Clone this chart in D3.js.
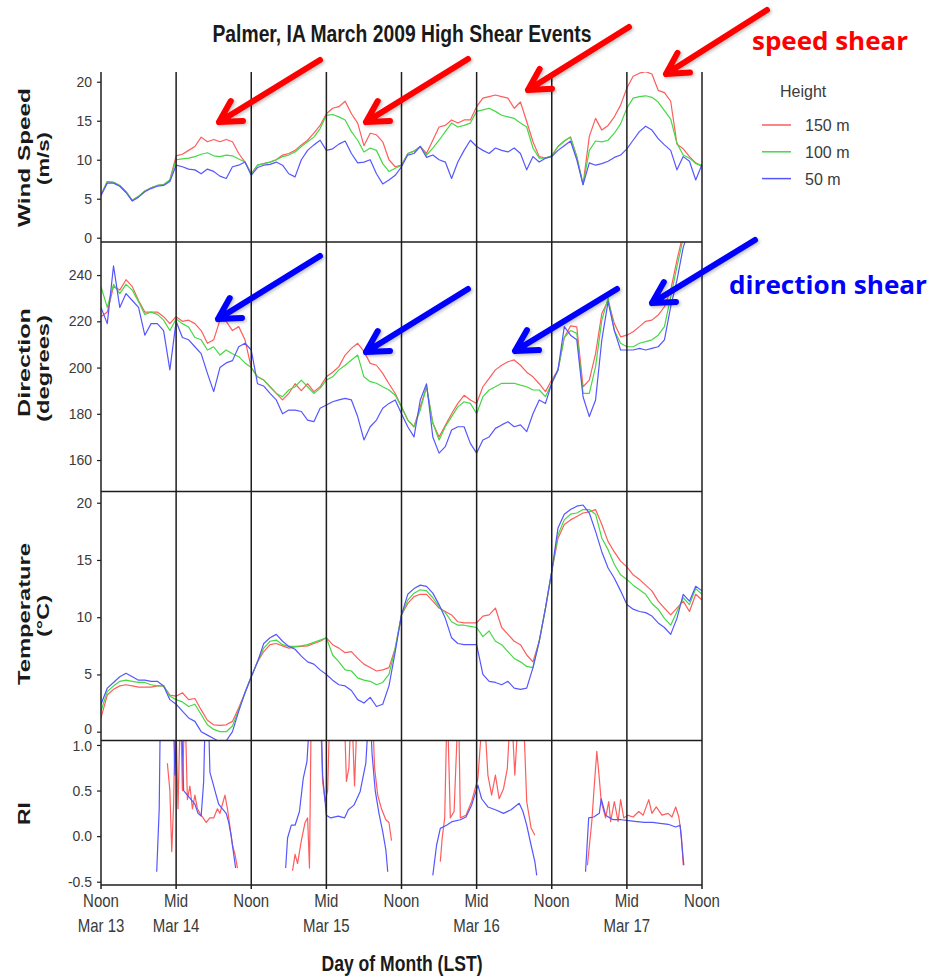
<!DOCTYPE html>
<html>
<head>
<meta charset="utf-8">
<script src="https://cdn.jsdelivr.net/npm/d3@7"></script>
<style>
  body { margin: 0; background: #fff; }
  svg { display: block; }
</style>
</head>
<body>
<svg id="chart" width="930" height="977"></svg>
<script>
// ---- time grid: hours after noon, 13 March 2009 (LST) ----
const hours = d3.range(0, 97);

// ---- wind speed (m/s) ----
const windRed = [
  5.5, 7.2, 7.1, 6.7, 5.9, 4.8, 5.3, 6.0, 6.4, 6.7, 6.8, 7.4,
  10.5, 10.7, 11.2, 11.7, 12.9, 12.3, 12.6, 12.3, 12.6, 12.3, 10.8, 9.7,
  8.2, 9.3, 9.5, 9.7, 10.0, 10.6, 10.8, 11.2, 11.9, 12.5, 13.4, 14.4,
  15.9, 16.6, 16.8, 17.5, 15.9, 14.7, 11.8, 13.4, 13.2, 12.3, 10.0, 9.1,
  9.3, 10.8, 11.1, 11.7, 10.8, 12.5, 14.2, 14.4, 15.1, 14.7, 15.1, 15.1,
  16.8, 17.9, 18.1, 18.3, 18.1, 17.9, 16.6, 17.4, 14.9, 12.3, 10.4, 10.2,
  10.5, 11.7, 12.4, 12.9, 10.4, 6.8, 13.0, 15.3, 13.8, 14.4, 15.5, 17.0,
  19.2, 20.7, 21.1, 21.3, 21.0, 18.9, 18.6, 17.5, 12.0, 11.4, 10.4, 9.6, 9.1
];
const windGreen = [
  5.5, 7.2, 7.1, 6.7, 5.9, 4.8, 5.3, 6.0, 6.4, 6.7, 6.8, 7.4,
  10.0, 10.1, 10.2, 10.4, 10.7, 10.9, 10.5, 10.4, 10.6, 10.5, 10.1, 9.7,
  8.2, 9.3, 9.5, 9.7, 10.0, 10.4, 10.6, 11.0, 11.7, 12.3, 12.9, 14.0,
  15.7, 15.8, 15.5, 15.1, 13.6, 12.5, 11.0, 11.5, 11.2, 9.5, 8.5, 8.9,
  9.3, 10.8, 11.1, 11.7, 10.6, 11.5, 12.5, 13.6, 14.7, 14.2, 14.4, 14.7,
  16.2, 16.4, 16.6, 16.2, 15.7, 15.5, 15.3, 14.7, 14.2, 11.5, 10.2, 10.2,
  10.5, 11.7, 12.4, 12.9, 10.4, 6.8, 11.2, 12.4, 12.3, 12.5, 13.4, 14.6,
  16.6, 17.9, 18.1, 18.2, 18.0, 17.4, 16.3, 15.2, 12.1, 10.6, 10.2, 9.5, 9.3
];
const windBlue = [
  5.4, 7.0, 7.0, 6.6, 5.8, 4.7, 5.2, 5.9, 6.3, 6.6, 6.7, 7.2,
  9.3, 9.1, 8.8, 8.7, 8.2, 8.8, 8.5, 7.9, 7.6, 9.1, 9.3, 9.7,
  8.0, 9.0, 9.3, 9.4, 9.7, 9.3, 8.2, 7.8, 10.0, 11.2, 11.9, 12.5,
  11.2, 11.4, 12.0, 12.4, 10.8, 9.6, 9.7, 10.0, 8.2, 6.9, 7.4, 8.0,
  9.1, 10.6, 10.8, 11.7, 10.3, 10.6, 10.0, 9.7, 7.6, 9.7, 11.2, 12.5,
  11.7, 11.2, 10.8, 11.5, 11.2, 11.0, 11.5, 10.8, 8.7, 10.4, 9.7, 10.2,
  10.4, 11.2, 11.8, 12.4, 10.0, 6.8, 9.6, 9.3, 9.5, 9.8, 10.3, 10.6,
  11.4, 12.5, 13.6, 14.3, 13.8, 12.7, 11.9, 11.2, 8.7, 10.4, 9.8, 7.4, 9.4
];

// ---- wind direction (degrees) ----
const dirRed = [
  222, 224, 235, 233.5, 238, 235, 229, 224, 224, 224, 222, 219,
  222, 220, 220.5, 219, 216, 210.5, 212, 220.5, 220, 216, 217.7, 212,
  200, 196, 194.6, 191.7, 188.8, 186, 188.8, 193, 190, 193, 189.6, 191.7,
  196, 198, 200.4, 205.4, 208.3, 210.5, 207, 201.8, 201, 197.5, 193, 188.8,
  183, 177.3, 174.4, 183, 191.7, 176, 170, 175, 180, 184.5, 188, 186,
  184.5, 191.7, 195.3, 199, 201, 202.5, 203.3, 201, 198, 196, 193, 189.6,
  194.6, 199, 213, 218, 217.6, 191.7, 194.6, 206, 223.4, 229, 219, 213.3,
  214, 215.5, 217.7, 220, 220.5, 222.7, 226.3, 233.5, 246.5, 258, 262, 264, 266
];
const dirGreen = [
  235, 226, 236, 232, 236, 233.5, 228.5, 223, 224, 223, 220.5, 216,
  221, 219, 217.5, 213, 212, 207.6, 209, 205.4, 207.6, 206, 204.7, 202,
  200, 196, 194.6, 191.7, 188.8, 187.4, 190.3, 191.7, 194.6, 191.7, 188.8, 191,
  194.6, 196, 199, 201, 203.3, 205.4, 196, 193.9, 193.2, 191.7, 190.3, 188,
  183, 177.3, 174.4, 181.6, 191.7, 176, 168.7, 174.4, 178.8, 183, 185.2, 184.5,
  180, 187.4, 190.3, 191.7, 193.2, 193.2, 193.2, 192.4, 191.7, 190.3, 190.3, 187.4,
  193.2, 199, 213, 216, 214.8, 188.8, 188.8, 200.4, 220.5, 230, 216, 210.5,
  209, 209, 210.5, 211.2, 212, 214, 217.7, 230.6, 243.6, 256, 262, 264, 266
];
const dirBlue = [
  226, 219, 244, 226, 232, 229, 226, 214, 219, 219, 216, 199,
  220, 213, 212, 209, 206, 197.5, 189.6, 200, 202, 203, 209, 210.5,
  207.6, 193, 192, 188.8, 186, 180, 181.6, 181.6, 181, 177.3, 176.6, 182.4,
  183.8, 185.2, 186, 186.7, 186, 178.8, 168.7, 174.4, 177.3, 182.4, 184.5, 186,
  180, 174.4, 170, 186, 193, 170, 163, 165.8, 173, 174.4, 174.4, 167.2,
  163, 168.7, 170, 173.7, 175.2, 176.6, 174.4, 175.2, 172.3, 180, 186, 184.5,
  193.2, 199, 217.7, 214, 212, 187.4, 178.8, 186, 212, 228.5, 216, 207.6,
  207.6, 207.6, 208.3, 207.6, 208.3, 209, 212, 226.3, 237.8, 252, 260, 264, 266
];

// ---- temperature (°C) ----
const tempRed = [
  1.2, 3.2, 3.7, 4.0, 4.1, 4.0, 3.9, 3.9, 3.9, 4.0, 4.0, 3.2,
  3.1, 3.4, 2.8, 2.9, 1.9, 1.0, 0.6, 0.55, 0.6, 0.9, 2.1, 3.4,
  4.8, 6.1, 7.0, 7.6, 7.7, 7.5, 7.3, 7.4, 7.45, 7.5, 7.7, 7.9,
  8.2, 7.6, 7.3, 6.9, 7.0, 6.4, 5.9, 5.6, 5.3, 5.4, 5.6, 7.3,
  10.2, 11.2, 11.8, 12.0, 12.0, 11.4, 10.8, 10.5, 10.2, 9.6, 9.5, 9.5,
  9.5, 10.1, 10.2, 10.8, 9.1, 8.5, 7.9, 7.6, 6.7, 6.1, 7.9, 10.8,
  14.0, 16.9, 18.1, 18.5, 18.8, 19.1, 19.2, 19.4, 18.1, 16.6, 15.7, 14.9,
  14.4, 13.7, 13.3, 12.8, 12.3, 11.4, 10.8, 10.2, 10.8, 11.4, 10.5, 12.0, 11.5
];
const tempGreen = [
  1.8, 3.5, 4.0, 4.4, 4.5, 4.4, 4.3, 4.3, 4.1, 4.0, 4.0, 3.1,
  2.8, 2.6, 2.2, 2.4, 1.5, 0.6, 0.2, 0.0, 0.0, 0.5, 1.9, 3.4,
  4.8, 6.1, 7.3, 7.9, 8.0, 7.6, 7.45, 7.45, 7.5, 7.6, 7.8, 8.0,
  8.2, 6.7, 6.1, 5.4, 5.3, 4.7, 4.5, 4.4, 4.1, 4.3, 5.0, 7.3,
  10.2, 11.5, 12.1, 12.4, 12.3, 11.7, 10.9, 10.4, 9.6, 9.3, 9.3, 9.2,
  9.1, 8.3, 8.8, 7.9, 7.6, 7.0, 6.4, 6.1, 5.7, 5.6, 7.9, 10.8,
  14.0, 17.2, 18.5, 19.0, 19.1, 19.4, 19.4, 19.0, 16.9, 15.9, 14.6, 13.7,
  13.3, 12.8, 12.4, 12.0, 11.2, 10.7, 9.9, 9.3, 10.5, 11.7, 11.1, 12.5, 12.0
];
const tempBlue = [
  2.4, 3.8, 4.3, 4.8, 5.1, 4.8, 4.5, 4.5, 4.4, 4.4, 4.0, 2.8,
  2.4, 1.8, 1.2, 0.9, 0.0, -0.3, -0.6, -0.9, -0.8, 0.0, 1.8, 3.4,
  4.8, 6.1, 7.7, 8.2, 8.5, 7.9, 7.45, 7.2, 6.6, 6.1, 5.9, 5.4,
  5.0, 4.5, 4.1, 4.0, 3.6, 2.8, 2.5, 3.0, 2.2, 2.4, 4.0, 7.0,
  10.2, 12.0, 12.5, 12.8, 12.7, 12.1, 11.1, 9.9, 8.2, 7.7, 7.6, 7.6,
  7.6, 5.0, 4.4, 4.3, 4.1, 4.4, 3.8, 3.7, 3.8, 5.6, 7.9, 10.8,
  14.0, 17.8, 19.0, 19.4, 19.7, 19.8, 19.1, 17.5, 15.7, 14.3, 13.4, 12.3,
  11.1, 10.7, 10.5, 10.4, 10.1, 9.5, 9.1, 8.5, 9.9, 12.0, 11.4, 12.7, 12.3
];

// ---- Richardson number: hour stamps and values, null ends a segment ----
const riRedHours = [
  10.6, 11.0, 11.3, 11.6, 11.9, 12.3, 12.7, 13.0, 13.4, 13.8, 14.2, 14.6, 15.0, 15.4, 15.8,
  16.3, 16.8, 17.4, 18.0, 18.6, 19.0, 19.4, 19.8, 20.2, 20.6, 21.0, 21.4, 21.8, 22.0,
  30.6, 31.0, 31.4, 32.0, 32.6, 33.0, 33.3, 33.6, 35.0, 35.4, 35.8, 36.2, 36.6, 38.8, 39.2,
  39.6, 40.0, 40.5, 41.0, 43.3, 43.7, 44.2, 44.8, 45.5, 46.0, 46.4, 46.6,
  54.2, 54.5, 54.9, 55.3, 55.8, 56.4, 57.1, 57.4, 58.3, 59.2, 60.2, 61.1, 61.8, 62.4, 63.0,
  63.6, 64.3, 64.9, 65.5, 66.1, 66.8, 67.4, 68.0, 68.7, 69.3, 69.5,
  77.7, 78.4, 78.8, 79.2, 79.6, 79.9, 80.6, 81.1, 81.4, 82.0, 82.6, 83.0, 83.5, 84.1, 85.0,
  85.9, 86.6, 87.5, 88.0, 88.7, 89.6, 90.6, 91.2, 91.8, 92.3, 92.7, 93.0
];
const riRed = [
  0.8, 0.5, -0.17, 0.35, 1.5, 0.3, 1.5, 0.5, 1.5, 0.4, 0.55, 0.3, 0.45, 0.3, 0.25,
  0.2, 0.15, 0.2, 0.2, 0.3, 0.25, 0.35, 0.45, 0.3, 0.1, -0.1, -0.2, -0.35, null,
  -0.38, -0.2, -0.3, -0.05, 0.15, 0.2, -0.35, 1.5, 1.5, 0.6, 0.38, 0.5, 1.5, 1.5, 0.6,
  0.75, 1.5, 0.55, 1.5, 1.5, 0.75, 0.45, 0.3, 0.18, 0.15, -0.05, null,
  -0.28, -0.02, 0.2, 1.5, 0.2, 0.27, 1.5, 0.2, 0.23, 0.38, 0.63, 1.5, 0.67, 0.45, 0.67,
  0.41, 0.52, 0.74, 1.5, 0.67, 1.5, 1.5, 0.38, 0.09, 0.01, null,
  -0.32, 0.16, 0.56, 0.93, 0.63, 0.38, 0.2, 0.38, 0.16, 0.38, 0.16, 0.4, 0.2, 0.23, 0.21,
  0.27, 0.23, 0.4, 0.25, 0.32, 0.23, 0.25, 0.21, 0.32, 0.21, 0.01, -0.32
];
const riBlueHours = [
  8.9, 9.3, 9.5, 11.5, 11.8, 12.2, 12.8, 13.2, 13.8, 14.4, 15.0, 15.5, 16.0, 16.4, 16.7,
  17.1, 17.4, 17.8, 18.2, 18.8, 19.4, 20.0, 20.4, 20.8, 21.2, 21.5, 21.7,
  29.5, 29.8, 30.4, 31.0, 31.7, 32.3, 32.9, 33.5, 35.1, 35.4, 36.0, 36.7, 37.9, 38.9, 39.5,
  40.4, 41.4, 42.3, 42.9, 43.3, 43.8, 44.4, 45.0, 45.5, 45.8, 46.0,
  53.0, 53.6, 54.2, 55.2, 56.1, 57.4, 58.3, 59.2, 60.2, 60.8, 61.8, 63.0, 64.3, 65.5, 66.8,
  67.4, 68.0, 68.7, 69.3, 69.6, 69.8,
  77.4, 77.9, 78.7, 79.6, 79.9, 80.6, 81.8, 83.1, 84.3, 85.6, 86.8, 88.1, 89.3, 90.6, 91.8,
  92.5, 92.8, 93.1
];
const riBlue = [
  -0.39, 0.3, 1.5, 1.5, 0.67, 1.5, 1.5, 0.5, 0.45, 0.4, 0.35, 0.25, 0.22, 0.6, 1.5,
  1.5, 0.7, 0.6, 0.5, 0.35, 0.3, 0.25, 0.15, 0.0, -0.2, -0.35, null,
  -0.35, -0.02, 0.12, 0.12, 0.27, 0.63, 0.82, 1.5, 1.5, 0.67, 0.23, 0.2, 0.22, 0.2, 0.29,
  0.34, 0.49, 0.8, 1.5, 0.9, 0.5, 0.25, 0.05, -0.15, -0.39, null,
  -0.43, -0.1, 0.085, 0.12, 0.16, 0.18, 0.21, 0.34, 0.56, 0.41, 0.32, 0.29, 0.25, 0.29, 0.36,
  0.27, 0.12, -0.1, -0.28, -0.43, null,
  -0.39, 0.2, 0.21, 0.25, 0.41, 0.23, 0.18, 0.18, 0.17, 0.16, 0.15, 0.15, 0.14, 0.13, 0.1,
  0.12, -0.1, -0.32
];

// ---- labels ----
const heightLabels = ["150 m", "100 m", "50 m"];
const xTickHours = [0, 12, 24, 36, 48, 60, 72, 84, 96];
const xTimeLabels = ["Noon", "Mid", "Noon", "Mid", "Noon", "Mid", "Noon", "Mid", "Noon"];
const xDayLabels = ["Mar 13", "Mar 14", "", "Mar 15", "", "Mar 16", "", "Mar 17", ""];
const windTicks = [0, 5, 10, 15, 20];
const dirTicks = [160, 180, 200, 220, 240];
const tempTicks = [0, 5, 10, 15, 20];
const riTicks = [-0.5, 0.0, 0.5, 1.0];

// ---- styling ----
const colors = ["#ff5c5c", "#45d845", "#5656ff"];
const axisInk = "#1e1e1e";
const labelInk = "#3a3a3a";

const svg = d3.select("#chart");
const left = 101, right = 702;
const x = d3.scaleLinear().domain([0, 96]).range([left, right]);

// plain hyphen for negative tick labels
const intFmt = d => String(Math.round(d));
const oneDec = d => d.toFixed(1);

const panels = [
  { id: "wind", top: 72, bottom: 242, domain: [-0.55, 21.25], ticks: windTicks, fmt: intFmt,
    series: [windRed, windGreen, windBlue],
    title: ["Wind Speed", "(m/s)"], titleY: [157.5, 158.5], titleLen: [139, 53] },
  { id: "dir", top: 242, bottom: 491.5, domain: [146.4, 254.3], ticks: dirTicks, fmt: intFmt,
    series: [dirRed, dirGreen, dirBlue],
    title: ["Direction", "(degrees)"], titleY: [362.5, 368.5], titleLen: [109, 107] },
  { id: "temp", top: 491.5, bottom: 740.5, domain: [-0.77, 20.98], ticks: tempTicks, fmt: intFmt,
    series: [tempRed, tempGreen, tempBlue], nudge: { value: 0, dy: -2.5 },
    title: ["Temperature", "(°C)"], titleY: [614, 616], titleLen: [142, 42] },
  { id: "ri", top: 740.5, bottom: 885, domain: [-0.536, 1.049], ticks: riTicks, fmt: oneDec,
    nudge: { value: 1.0, dy: 1.5 },
    title: ["RI"], titleY: [813.5], titleLen: [23] }
];

const defs = svg.append("defs");
const shadow = defs.append("filter").attr("id", "soft").attr("x", "-20%").attr("y", "-20%")
  .attr("width", "140%").attr("height", "140%");
shadow.append("feDropShadow").attr("dx", 1.5).attr("dy", 1.5).attr("stdDeviation", 1.5)
  .attr("flood-color", "#000").attr("flood-opacity", 0.25);

panels.forEach(p => {
  p.y = d3.scaleLinear().domain(p.domain).range([p.bottom, p.top]);
  defs.append("clipPath").attr("id", "clip-" + p.id)
    .append("rect").attr("x", left).attr("y", p.top)
    .attr("width", right - left).attr("height", p.bottom - p.top);

  const g = svg.append("g").attr("clip-path", `url(#clip-${p.id})`);
  if (p.series) {
    const line = d3.line().x((d, i) => x(hours[i])).y(d => p.y(d));
    p.series.forEach((vals, k) => {
      g.append("path").datum(vals)
        .attr("d", line)
        .attr("fill", "none")
        .attr("stroke", colors[k])
        .attr("stroke-width", 1.2)
        .attr("stroke-linejoin", "round");
    });
  } else {
    const riLine = d3.line()
      .defined(d => d[1] !== null)
      .x(d => x(d[0])).y(d => p.y(d[1]));
    const red = riRedHours.map((h, i) => [h, riRed[i]]);
    const blue = riBlueHours.map((h, i) => [h, riBlue[i]]);
    [[red, colors[0]], [blue, colors[2]]].forEach(([pts, c]) => {
      g.append("path").datum(pts)
        .attr("d", riLine)
        .attr("fill", "none")
        .attr("stroke", c)
        .attr("stroke-width", 1.2)
        .attr("stroke-linejoin", "round");
    });
  }

  // left axis ticks and labels
  const ax = svg.append("g").attr("transform", `translate(${left},0)`)
    .call(d3.axisLeft(p.y).tickValues(p.ticks).tickFormat(p.fmt).tickSize(4).tickPadding(5));
  ax.select(".domain").remove();
  ax.selectAll("line").attr("stroke", axisInk).attr("stroke-width", 1.2);
  ax.selectAll("text")
    .attr("fill", labelInk)
    .style("font-family", "'Liberation Sans', Arial, sans-serif")
    .style("font-size", "14px");
  // keep labels at the shared panel edge apart
  if (p.nudge) {
    ax.selectAll(".tick").filter(d => d === p.nudge.value)
      .select("text").attr("y", p.nudge.dy);
  }

  // panel title (rotated)
  const baselines = [30, 48.5];
  p.title.forEach((t, i) => {
    svg.append("text")
      .attr("transform", `translate(${baselines[i]},${p.titleY[i]}) rotate(-90)`)
      .attr("text-anchor", "middle")
      .attr("textLength", p.titleLen[i])
      .attr("lengthAdjust", "spacingAndGlyphs")
      .attr("fill", "#1a1a1a")
      .style("font-family", "'Liberation Sans', Arial, sans-serif")
      .style("font-weight", "bold")
      .style("font-size", "17px")
      .text(t);
  });
});

// frame: horizontal separators and bottom axis
const frame = svg.append("g").attr("stroke", axisInk).attr("stroke-width", 1.5);
[242, 491.5, 740.5, 885].forEach(yy => {
  frame.append("line").attr("x1", left).attr("x2", right).attr("y1", yy).attr("y2", yy);
});
// vertical lines every 12 hours through all panels
frame.selectAll(".vline").data(xTickHours).enter().append("line")
  .attr("x1", d => x(d)).attr("x2", d => x(d))
  .attr("y1", 72).attr("y2", 889);

// x labels
const xl = svg.append("g")
  .style("font-family", "'Liberation Sans', Arial, sans-serif")
  .style("font-size", "15px")
  .attr("fill", labelInk)
  .attr("text-anchor", "middle");
xTickHours.forEach((h, i) => {
  xl.append("text").attr("transform", `translate(${x(h)},906.5) scale(1,1.25)`).text(xTimeLabels[i]);
  if (xDayLabels[i]) {
    xl.append("text").attr("transform", `translate(${x(h)},931.5) scale(1,1.25)`).text(xDayLabels[i]);
  }
});

// x-axis title
svg.append("text")
  .attr("transform", "translate(402,971) scale(1,1.25)")
  .attr("text-anchor", "middle")
  .attr("textLength", 161).attr("lengthAdjust", "spacingAndGlyphs")
  .attr("fill", "#1a1a1a")
  .style("font-family", "'Liberation Sans', Arial, sans-serif")
  .style("font-weight", "bold").style("font-size", "17.5px")
  .text("Day of Month (LST)");

// chart title
svg.append("text")
  .attr("transform", "translate(402,42) scale(1,1.24)")
  .attr("text-anchor", "middle")
  .attr("textLength", 379).attr("lengthAdjust", "spacingAndGlyphs")
  .attr("fill", "#1a1a1a")
  .style("font-family", "'Liberation Sans', Arial, sans-serif")
  .style("font-weight", "bold").style("font-size", "19px")
  .text("Palmer, IA March 2009 High Shear Events");

// legend
const lg = svg.append("g")
  .style("font-family", "'Liberation Sans', Arial, sans-serif")
  .attr("fill", labelInk);
lg.append("text").attr("x", 780).attr("y", 96.5).style("font-size", "16px").text("Height");
heightLabels.forEach((lab, i) => {
  const yy = 125 + i * 26.8;
  lg.append("line").attr("x1", 762).attr("x2", 791).attr("y1", yy).attr("y2", yy)
    .attr("stroke", colors[i]).attr("stroke-width", 1.5);
  lg.append("text").attr("x", 805).attr("y", yy + 6.3).style("font-size", "16px").text(lab);
});

// annotation arrows
const redArrows = [[320, 60, 219, 122], [468, 59, 366, 122], [629, 27, 528, 90], [767, 10, 666, 74]];
const blueArrows = [[320, 256, 218, 319], [468, 289, 366, 352], [617, 289, 515, 351], [755, 240, 652, 303]];
function drawArrow(a, color) {
  const [x0, y0, x1, y1] = a;
  const ang = Math.atan2(y0 - y1, x0 - x1);
  const L = 24, spread = Math.PI / 6.2;
  const p1 = [x1 + L * Math.cos(ang + spread), y1 + L * Math.sin(ang + spread)];
  const p2 = [x1 + L * Math.cos(ang - spread), y1 + L * Math.sin(ang - spread)];
  const path = d3.path();
  path.moveTo(x0, y0); path.lineTo(x1, y1);
  path.moveTo(p1[0], p1[1]); path.lineTo(x1, y1); path.lineTo(p2[0], p2[1]);
  svg.append("path").attr("d", path.toString())
    .attr("fill", "none").attr("stroke", color).attr("stroke-width", 6)
    .attr("stroke-linecap", "round").attr("stroke-linejoin", "round")
    .attr("filter", "url(#soft)");
}
redArrows.forEach(a => drawArrow(a, "#ff0000"));
blueArrows.forEach(a => drawArrow(a, "#0000ff"));

svg.append("text").attr("x", 752).attr("y", 50)
  .attr("textLength", 156).attr("lengthAdjust", "spacingAndGlyphs")
  .attr("fill", "#ff0000")
  .style("font-family", "'Open Sans', sans-serif").style("font-weight", "bold").style("font-size", "25px")
  .text("speed shear");
svg.append("text").attr("x", 729).attr("y", 294)
  .attr("textLength", 198).attr("lengthAdjust", "spacingAndGlyphs")
  .attr("fill", "#0000ff")
  .style("font-family", "'Open Sans', sans-serif").style("font-weight", "bold").style("font-size", "25px")
  .text("direction shear");
</script>
</body>
</html>
